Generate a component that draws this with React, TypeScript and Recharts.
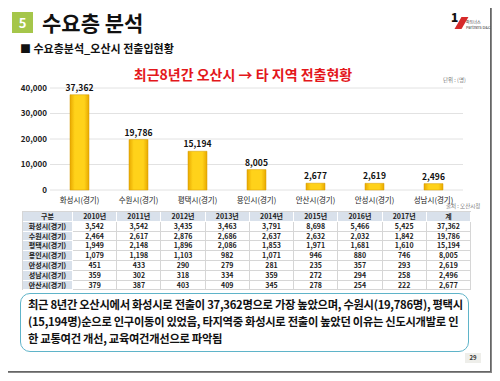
import { BarChart, Bar, XAxis, YAxis, CartesianGrid, LabelList } from "recharts"

const cities = ["화성시(경기)", "수원시(경기)", "평택시(경기)", "용인시(경기)", "안산시(경기)", "안성시(경기)", "성남시(경기)"]
const totals = [37362, 19786, 15194, 8005, 2677, 2619, 2496]
const yTicks = [0, 5000, 10000, 15000, 20000, 25000, 30000, 35000, 40000]

const years = ["2010년", "2011년", "2012년", "2013년", "2014년", "2015년", "2016년", "2017년", "계"]
const rowNames = ["화성시(경기)", "수원시(경기)", "평택시(경기)", "용인시(경기)", "안성시(경기)", "성남시(경기)", "안산시(경기)"]
const rows = [
    [3542, 3542, 3435, 3463, 3791, 8698, 5466, 5425, 37362],
    [2464, 2617, 2876, 2686, 2637, 2632, 2032, 1842, 19786],
    [1949, 2148, 1896, 2086, 1853, 1971, 1681, 1610, 15194],
    [1079, 1198, 1103, 982, 1071, 946, 880, 746, 8005],
    [451, 433, 290, 279, 281, 235, 357, 293, 2619],
    [359, 302, 318, 334, 359, 272, 294, 258, 2496],
    [379, 387, 403, 409, 345, 278, 254, 222, 2677],
]

const summary = [
    "최근 8년간 오산시에서 화성시로 전출이 37,362명으로 가장 높았으며, 수원시(19,786명), 평택시",
    "(15,194명)순으로 인구이동이 있었음, 타지역중 화성시로 전출이 높았던 이유는 신도시개발로 인",
    "한 교통여건 개선, 교육여건개선으로 파악됨",
]

const chartData = cities.map((city, i) => ({ city, value: totals[i] }))

const font = "'Noto Sans CJK KR', 'Noto Sans', sans-serif"
const fmt = (v: number) => v.toLocaleString("en-US")

const headCell = { background: "#d9e1eb", borderRight: "1px solid #fff", borderBottom: "1px solid #fff", textAlign: "center" as const, lineHeight: "9px", overflow: "hidden", whiteSpace: "nowrap" as const }
const dataCell = { background: "#fff", borderRight: "1px solid #d6d6d6", borderBottom: "1px solid #d6d6d6", textAlign: "center" as const, lineHeight: "9px", overflow: "hidden", whiteSpace: "nowrap" as const }

export default function App() {
    return (
        <div style={{ position: "relative", width: 500, height: 381, margin: -8, background: "#fff", fontFamily: font, overflow: "hidden" }}>
            {/* slide frame + shadow */}
            <div style={{ position: "absolute", left: 491, top: 6, width: 8, height: 370, background: "#cfcfcf", borderLeft: "1px solid #888" }} />
            <div style={{ position: "absolute", left: 6, top: 372, width: 493, height: 8, background: "#cfcfcf", borderTop: "1px solid #888" }} />
            <div style={{ position: "absolute", left: 2, top: 2, width: 487, height: 368, border: "1.5px solid #666", background: "#fff" }} />

            {/* header */}
            <div style={{ position: "absolute", left: 12, top: 12, width: 21, height: 21, background: "#a5c64a", color: "#fff", fontWeight: 700, fontSize: 13, lineHeight: "21px", textAlign: "center" }}>5</div>
            <div style={{ position: "absolute", left: 42, top: 7, fontSize: 21, fontWeight: 700, color: "#111", lineHeight: "30px" }}>수요층 분석</div>
            <div style={{ position: "absolute", left: 20, top: 40, fontSize: 11, fontWeight: 700, color: "#111", lineHeight: "16px" }}>■ 수요층분석_오산시 전출입현황</div>

            {/* logo */}
            <div style={{ position: "absolute", left: 450, top: 11, width: 34, height: 20 }}>
                <div style={{ position: "absolute", left: 1, top: -3, fontSize: 12, fontWeight: 900, color: "#111" }}>1</div>
                <div style={{ position: "absolute", left: 8, top: 6, width: 7, height: 12, background: "#d62a2a", transform: "skewX(-30deg)" }} />
                <div style={{ position: "absolute", left: 16, top: 9, fontSize: 4, color: "#333", lineHeight: "5px", whiteSpace: "nowrap" }}>파트너스<br />Partners D&C</div>
            </div>

            {/* chart title */}
            <div style={{ position: "absolute", left: 0, width: 486, top: 64, textAlign: "center", fontSize: 14, fontWeight: 700, color: "#e3171b", lineHeight: "20px" }}>최근8년간 오산시 → 타 지역 전출현황</div>
            <div style={{ position: "absolute", left: 443, top: 76, fontSize: 5.5, color: "#777" }}>단위 : (명)</div>
            <div style={{ position: "absolute", left: 446, top: 203, fontSize: 5.5, lineHeight: "6px", color: "#777" }}>출처 : 오산시청</div>

            <div style={{ position: "absolute", left: 0, top: 0 }}>
                <BarChart width={500} height={215} data={chartData} margin={{ top: 88, right: 37, bottom: 0, left: 0 }}>
                    <defs>
                        <linearGradient id="gold" x1="0" y1="0" x2="1" y2="0">
                            <stop offset="0%" stopColor="#e8a900" />
                            <stop offset="25%" stopColor="#ffd21a" />
                            <stop offset="75%" stopColor="#ffd21a" />
                            <stop offset="100%" stopColor="#e8a900" />
                        </linearGradient>
                    </defs>
                    <CartesianGrid vertical={false} stroke="#e2e2e2" />
                    <XAxis dataKey="city" axisLine={false} tickLine={false} height={25} tickMargin={2} interval={0} tick={{ fontSize: 7.5, fill: "#222", fontFamily: font }} />
                    <YAxis width={50} domain={[0, 40000]} ticks={yTicks} tickFormatter={fmt} axisLine={false} tickLine={false} tickSize={0} tickMargin={3} tick={{ fontSize: 8, fill: "#222", fontWeight: 700, fontFamily: font }} />
                    <Bar dataKey="value" fill="url(#gold)" stroke="#d49a00" strokeWidth={0.5} barSize={19} isAnimationActive={false}>
                        <LabelList dataKey="value" position="top" offset={4} formatter={(v: number) => fmt(v)} style={{ fontSize: 8.5, fontWeight: 700, fill: "#111", fontFamily: font }} />
                    </Bar>
                </BarChart>
            </div>

            {/* data table */}
            <div style={{ position: "absolute", left: 22, top: 211, width: 448, display: "grid", gridTemplateColumns: "50px repeat(9, 1fr)", gridTemplateRows: "repeat(8, 9.8px)", fontSize: 7, fontWeight: 700, color: "#222", borderTop: "1px solid #d6d6d6", borderLeft: "1px solid #d6d6d6" }}>
                <div style={headCell}>구분</div>
                {years.map((y) => <div key={y} style={headCell}>{y}</div>)}
                {rows.map((r, i) => [
                    <div key={rowNames[i]} style={headCell}>{rowNames[i]}</div>,
                    ...r.map((v, j) => <div key={rowNames[i] + j} style={dataCell}>{fmt(v)}</div>),
                ])}
            </div>

            {/* summary box */}
            <div style={{ position: "absolute", left: 20, top: 293, width: 449, height: 59, border: "1.5px solid #5fb4c9", borderRadius: 10, background: "#fff", boxSizing: "border-box", padding: "2px 7px", fontSize: 11.3, fontWeight: 700, color: "#111", lineHeight: "17px", letterSpacing: -0.3, whiteSpace: "nowrap" }}>
                {summary.map((line) => <div key={line}>{line}</div>)}
            </div>

            {/* page number */}
            <div style={{ position: "absolute", left: 465, top: 353, width: 16, height: 10, background: "#eeeeea", fontSize: 6, fontWeight: 700, color: "#333", textAlign: "center", lineHeight: "10px" }}>29</div>
        </div>
    )
}
